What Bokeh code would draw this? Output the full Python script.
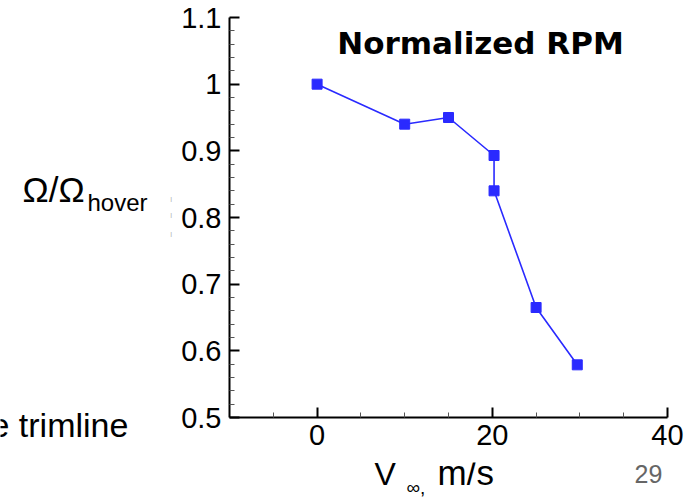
from bokeh.plotting import figure
from bokeh.layouts import row, column
from bokeh.models import Range1d, LinearAxis, FixedTicker, Label, ColumnDataSource
from bokeh.core.properties import value
from bokeh.embed import file_html
from bokeh.resources import INLINE

# ---- data ----
speed = [0, 10, 15, 20.2, 20.2, 25, 29.7]
rpm_ratio = [1.0, 0.94, 0.95, 0.893, 0.84, 0.665, 0.579]

x_major = [0, 20, 40]
x_minor = [-5, 5, 10, 15, 25, 30, 35]
y_major = [0.5, 0.6, 0.7, 0.8, 0.9, 1.0, 1.1]
y_labels = ["0.5", "0.6", "0.7", "0.8", "0.9", "1", "1.1"]
y_minor = [0.52, 0.54, 0.56, 0.58, 0.62, 0.64, 0.66, 0.68, 0.72, 0.74, 0.76, 0.78,
           0.82, 0.84, 0.86, 0.88, 0.92, 0.94, 0.96, 0.98, 1.02, 1.04, 1.06, 1.08]

title_text = "Normalized RPM"
FONT = "Liberation Sans"
BLUE = "#2a2aff"
BASE_FIX = 0.36   # baseline correction (fraction of font size)

# ---- layout geometry (page pixels) ----
PAGE_W, PAGE_H = 697, 497
LEFT_W = 175            # width of the left text strip
TOP_H = 462             # height of the upper row
FW, FH = 438, 400
FRAME_X0, FRAME_Y0 = 229, 17

MAIN_W = PAGE_W - LEFT_W
p = figure(width=MAIN_W, height=TOP_H,
           min_border_left=FRAME_X0 - LEFT_W, min_border_top=FRAME_Y0,
           min_border_right=MAIN_W - (FRAME_X0 - LEFT_W) - FW,
           min_border_bottom=TOP_H - FRAME_Y0 - FH,
           x_range=Range1d(-10, 40), y_range=Range1d(0.5, 1.1),
           output_backend="svg", toolbar_location=None,
           x_axis_type=None, y_axis_type=None, frame_align=False)
p.outline_line_color = None
p.background_fill_color = "white"
p.border_fill_color = "white"
p.xgrid.visible = False
p.ygrid.visible = False

xa = LinearAxis(ticker=FixedTicker(ticks=x_major, minor_ticks=x_minor))
ya = LinearAxis(ticker=FixedTicker(ticks=y_major, minor_ticks=y_minor))
ya.major_label_overrides = {v: s for v, s in zip(y_major, y_labels)}
for ax in (xa, ya):
    ax.axis_line_width = 2
    ax.axis_line_color = "black"
    ax.major_tick_in = 10
    ax.major_tick_out = 0
    ax.minor_tick_in = 5
    ax.minor_tick_out = 0
    ax.major_tick_line_width = 2
    ax.major_tick_line_color = "black"
    ax.minor_tick_line_width = 1
    ax.minor_tick_line_color = "#555555"
    ax.major_label_text_font = FONT
    ax.major_label_text_font_size = "29px"
    ax.major_label_text_color = "black"
xa.major_label_standoff = 7
ya.major_label_standoff = 8
p.add_layout(xa, "below")
p.add_layout(ya, "left")

src = ColumnDataSource(dict(x=speed, y=rpm_ratio))
p.line("x", "y", source=src, line_color=BLUE, line_width=1.6)
p.scatter("x", "y", source=src, marker="square", size=10,
          fill_color=BLUE, line_color=BLUE)

TITLE_SIZE = 31
p.add_layout(Label(x=480 - FRAME_X0,
                   y=FRAME_Y0 + FH - (54 - BASE_FIX * TITLE_SIZE),
                   x_units="screen", y_units="screen", text=title_text,
                   text_font="DejaVu Sans", text_font_style="bold",
                   text_font_size=f"{TITLE_SIZE}px", text_color="black",
                   text_align="center", text_baseline="alphabetic"))


def text_fig(w, h, x0, y0):
    f = figure(width=w, height=h, min_border=0,
               x_range=Range1d(x0, x0 + w), y_range=Range1d(y0 + h, y0),
               output_backend="svg", toolbar_location=None,
               x_axis_type=None, y_axis_type=None, frame_align=False)
    f.outline_line_color = None
    f.xgrid.visible = False
    f.ygrid.visible = False
    f.background_fill_color = "white"
    f.border_fill_color = "white"
    return f


def put(f, txt, px, py, size, color="black"):
    f.text(x=[px], y=[py - BASE_FIX * size], text=[txt], text_font=value(FONT),
           text_font_size=value(f"{size}px"), text_color=color,
           text_align="left", text_baseline="alphabetic")


left = text_fig(LEFT_W, TOP_H, 0, 0)
put(left, "Ω/Ω", 22, 202, 35)
put(left, "hover", 87, 211, 24)
put(left, "e trimline", -10, 437, 34)
for py in (200, 216, 235):
    put(left, "|", 170, py, 5, color="#777777")

bottom = text_fig(PAGE_W, PAGE_H - TOP_H, 0, TOP_H)
put(bottom, "V", 374, 485, 32)
put(bottom, "∞,", 406, 494, 19)
put(bottom, "m/s", 437, 485, 35)
put(bottom, "29", 634, 482, 25, color="#666666")

layout = column(row(left, p, spacing=0), bottom, spacing=0)
open("out.html", "w").write(file_html(layout, INLINE))
